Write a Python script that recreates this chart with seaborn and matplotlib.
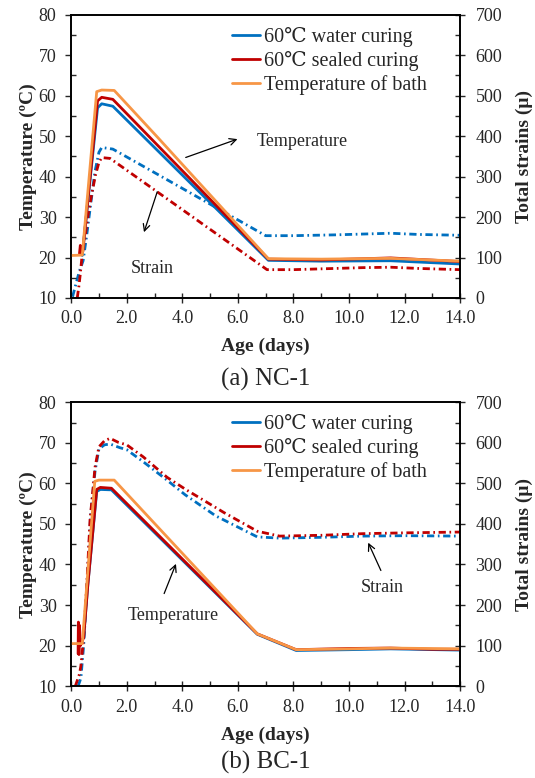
import matplotlib
matplotlib.use("Agg")
import matplotlib.pyplot as plt
from matplotlib.ticker import MultipleLocator, FormatStrFormatter
import seaborn as sns

# ---- NC-1 (top panel) ----
nc_age_bath = [0.0, 0.4, 0.92, 1.1, 1.55, 3.1, 7.1, 9.0, 11.5, 14.0]
nc_temp_bath = [20.5, 20.6, 61.0, 61.4, 61.3, 49.8, 19.7, 19.6, 19.8, 19.1]
nc_age_water = [0.4, 0.95, 1.1, 1.5, 4.0, 7.1, 9.0, 11.5, 14.0]
nc_temp_water = [20.5, 57.0, 58.0, 57.4, 40.4, 19.3, 19.1, 19.2, 18.4]
nc_age_sealed = [0.3, 0.33, 0.36, 0.42, 0.95, 1.1, 1.5, 7.1, 9.0, 11.5, 14.0]
nc_temp_sealed = [21.0, 23.0, 21.0, 21.5, 58.7, 59.6, 59.1, 19.6, 19.4, 19.9, 19.0]
nc_age_sw = [0.05, 0.2, 0.3, 0.43, 0.55, 0.7, 0.85, 1.0, 1.1, 1.5, 3.1, 5.0, 7.0, 8.0, 9.5, 11.5, 12.5, 14.0]
nc_strain_water = [3, 42, 67, 92, 150, 230, 310, 360, 372, 368, 306, 232, 154, 154, 156, 160, 157, 155]
nc_age_ss = [0.22, 0.28, 0.33, 0.4, 0.5, 0.62, 0.75, 0.88, 1.0, 1.1, 1.4, 7.05, 8.0, 9.0, 10.5, 11.5, 12.5, 14.0]
nc_strain_sealed = [0, 30, 60, 110, 150, 210, 260, 305, 335, 347, 345, 70, 70, 72, 75, 76, 73, 70]

# ---- BC-1 (bottom panel) ----
bc_age_bath = [0.0, 0.4, 0.85, 1.0, 1.55, 6.7, 8.1, 10.0, 11.5, 14.0]
bc_temp_bath = [20.5, 20.5, 60.5, 60.8, 60.8, 22.9, 19.0, 19.2, 19.4, 19.2]
bc_age_water = [0.3, 0.45, 0.6, 0.92, 1.05, 1.45, 6.7, 8.1, 10.0, 11.5, 14.0]
bc_temp_water = [20.5, 22.0, 35.0, 58.0, 58.5, 58.4, 22.8, 18.8, 19.0, 19.2, 18.9]
bc_age_sealed = [0.25, 0.26, 0.28, 0.3, 0.33, 0.36, 0.45, 0.6, 0.92, 1.05, 1.45, 6.7, 8.1, 10.0, 11.5, 13.0, 14.0]
bc_temp_sealed = [18.0, 25.8, 17.8, 25.0, 20.0, 20.5, 22.0, 35.0, 58.5, 59.0, 58.8, 22.9, 19.0, 19.3, 19.4, 19.1, 19.1]
bc_age_sw = [0.25, 0.35, 0.45, 0.57, 0.7, 0.86, 1.0, 1.2, 1.4, 1.75, 2.0, 2.6, 3.45, 4.1, 5.2, 6.7, 7.5, 9.0, 10.5, 12.0, 14.0]
bc_strain_water = [0, 20, 100, 250, 420, 530, 585, 595, 597, 588, 583, 553, 508, 472, 420, 368, 365, 367, 370, 371, 370]
bc_age_ss = [0.15, 0.3, 0.35, 0.45, 0.57, 0.68, 0.86, 1.0, 1.2, 1.4, 1.7, 2.0, 2.6, 3.45, 4.1, 5.5, 6.7, 7.5, 9.0, 10.5, 12.0, 14.0]
bc_strain_sealed = [0, 30, 50, 120, 260, 410, 540, 590, 605, 611, 601, 595, 565, 515, 486, 428, 382, 370, 372, 376, 378, 380]

labels = ["60\u2103 water curing", "60\u2103 sealed curing", "Temperature of bath"]
BLUE, RED, ORANGE = "#0070C0", "#C00000", "#F79646"
DASHDOT = (0, (2.6, 1.3, 0.6, 1.3))

sns.set_theme(style="ticks")
plt.rcParams["font.family"] = ["Liberation Serif", "DejaVu Serif", "Noto Sans CJK JP"]


def style_axes(ax, ax2):
    ax.set_xlim(0, 14)
    ax.set_ylim(10, 80)
    ax2.set_ylim(0, 700)
    ax.xaxis.set_major_locator(MultipleLocator(2))
    ax.xaxis.set_minor_locator(MultipleLocator(1))
    ax.xaxis.set_major_formatter(FormatStrFormatter("%.1f"))
    ax.yaxis.set_major_locator(MultipleLocator(10))
    ax.yaxis.set_minor_locator(MultipleLocator(5))
    ax2.yaxis.set_major_locator(MultipleLocator(100))
    ax2.yaxis.set_minor_locator(MultipleLocator(50))
    ax.tick_params(axis="x", which="major", direction="inout", length=7, width=1, labelsize=13, pad=5.5)
    ax.tick_params(axis="y", which="major", direction="out", length=4, width=1, labelsize=13, pad=6.5)
    ax.tick_params(which="minor", direction="in", length=3.5, width=1)
    ax2.tick_params(axis="y", which="major", direction="inout", length=7, width=1, labelsize=13, pad=7.5)
    ax2.tick_params(axis="y", which="minor", direction="in", length=3.5, width=1)
    for a in (ax, ax2):
        for sp in a.spines.values():
            sp.set_visible(True)
            sp.set_linewidth(1.2)
            sp.set_color("black")
    ax.set_xlabel("Age (days)", fontsize=14, fontweight="bold")
    ax.set_ylabel("Temperature (ºC)", fontsize=14, fontweight="bold")
    ax2.set_ylabel("Total strains (μ)", fontsize=14, fontweight="bold")
    ax.xaxis.set_label_coords(0.5, -0.142)
    ax.yaxis.set_label_coords(-0.088, 0.5)
    ax2.yaxis.set_label_coords(1.142, 0.5)
    # last x label sits inside the frame, like the original
    ax.xaxis.get_major_ticks()[-1].label1.set_horizontalalignment("right")


def draw_panel(ax, bath, water, sealed, s_water, s_sealed):
    ax2 = ax.twinx()
    # strains on the right axis, dash-dot
    sns.lineplot(x=s_water[0], y=s_water[1], ax=ax2, color=BLUE, lw=2.0, linestyle=DASHDOT)
    sns.lineplot(x=s_sealed[0], y=s_sealed[1], ax=ax2, color=RED, lw=2.0, linestyle=DASHDOT)
    # temperatures on the left axis, solid
    sns.lineplot(x=water[0], y=water[1], ax=ax, color=BLUE, lw=2.0, label=labels[0])
    sns.lineplot(x=sealed[0], y=sealed[1], ax=ax, color=RED, lw=2.0, label=labels[1])
    sns.lineplot(x=bath[0], y=bath[1], ax=ax, color=ORANGE, lw=2.0, label=labels[2])
    ax.set_zorder(ax2.get_zorder() + 1)
    ax.patch.set_visible(False)
    style_axes(ax, ax2)
    ax.legend(loc="upper left", bbox_to_anchor=(0.413, 0.958), frameon=False, fontsize=14.5,
              handlelength=1.4, handletextpad=0.2, labelspacing=0.2, borderpad=0.0,
              borderaxespad=0.0)
    return ax2


fig = plt.figure(figsize=(5.35, 7.78), dpi=100)
ax_a = fig.add_axes([0.133, 0.617, 0.727, 0.364])
ax_b = fig.add_axes([0.133, 0.118, 0.727, 0.365])

draw_panel(ax_a, (nc_age_bath, nc_temp_bath), (nc_age_water, nc_temp_water),
           (nc_age_sealed, nc_temp_sealed), (nc_age_sw, nc_strain_water), (nc_age_ss, nc_strain_sealed))
draw_panel(ax_b, (bc_age_bath, bc_temp_bath), (bc_age_water, bc_temp_water),
           (bc_age_sealed, bc_temp_sealed), (bc_age_sw, bc_strain_water), (bc_age_ss, bc_strain_sealed))

arrow = dict(arrowstyle="->", color="black", lw=0.9)
ax_a.annotate("", xy=(6.08, 49.5), xytext=(4.03, 44.5), arrowprops=arrow)
ax_a.text(6.69, 48.6, "Temperature", fontsize=13, va="center", ha="left")
ax_a.annotate("", xy=(2.59, 25.6), xytext=(3.13, 36.9), arrowprops=arrow)
ax_a.text(2.91, 17.4, "Strain", fontsize=13, va="center", ha="center")

ax_b.annotate("", xy=(3.81, 40.8), xytext=(3.31, 32.2), arrowprops=arrow)
ax_b.text(3.67, 27.5, "Temperature", fontsize=13, va="center", ha="center")
ax_b.annotate("", xy=(10.65, 46.0), xytext=(11.19, 37.9), arrowprops=arrow)
ax_b.text(11.2, 34.4, "Strain", fontsize=13, va="center", ha="center")

fig.text(0.497, 0.512, "(a) NC-1", fontsize=18, ha="center", va="center")
fig.text(0.497, 0.020, "(b) BC-1", fontsize=18, ha="center", va="center")

fig.savefig("out.png", dpi=100)
